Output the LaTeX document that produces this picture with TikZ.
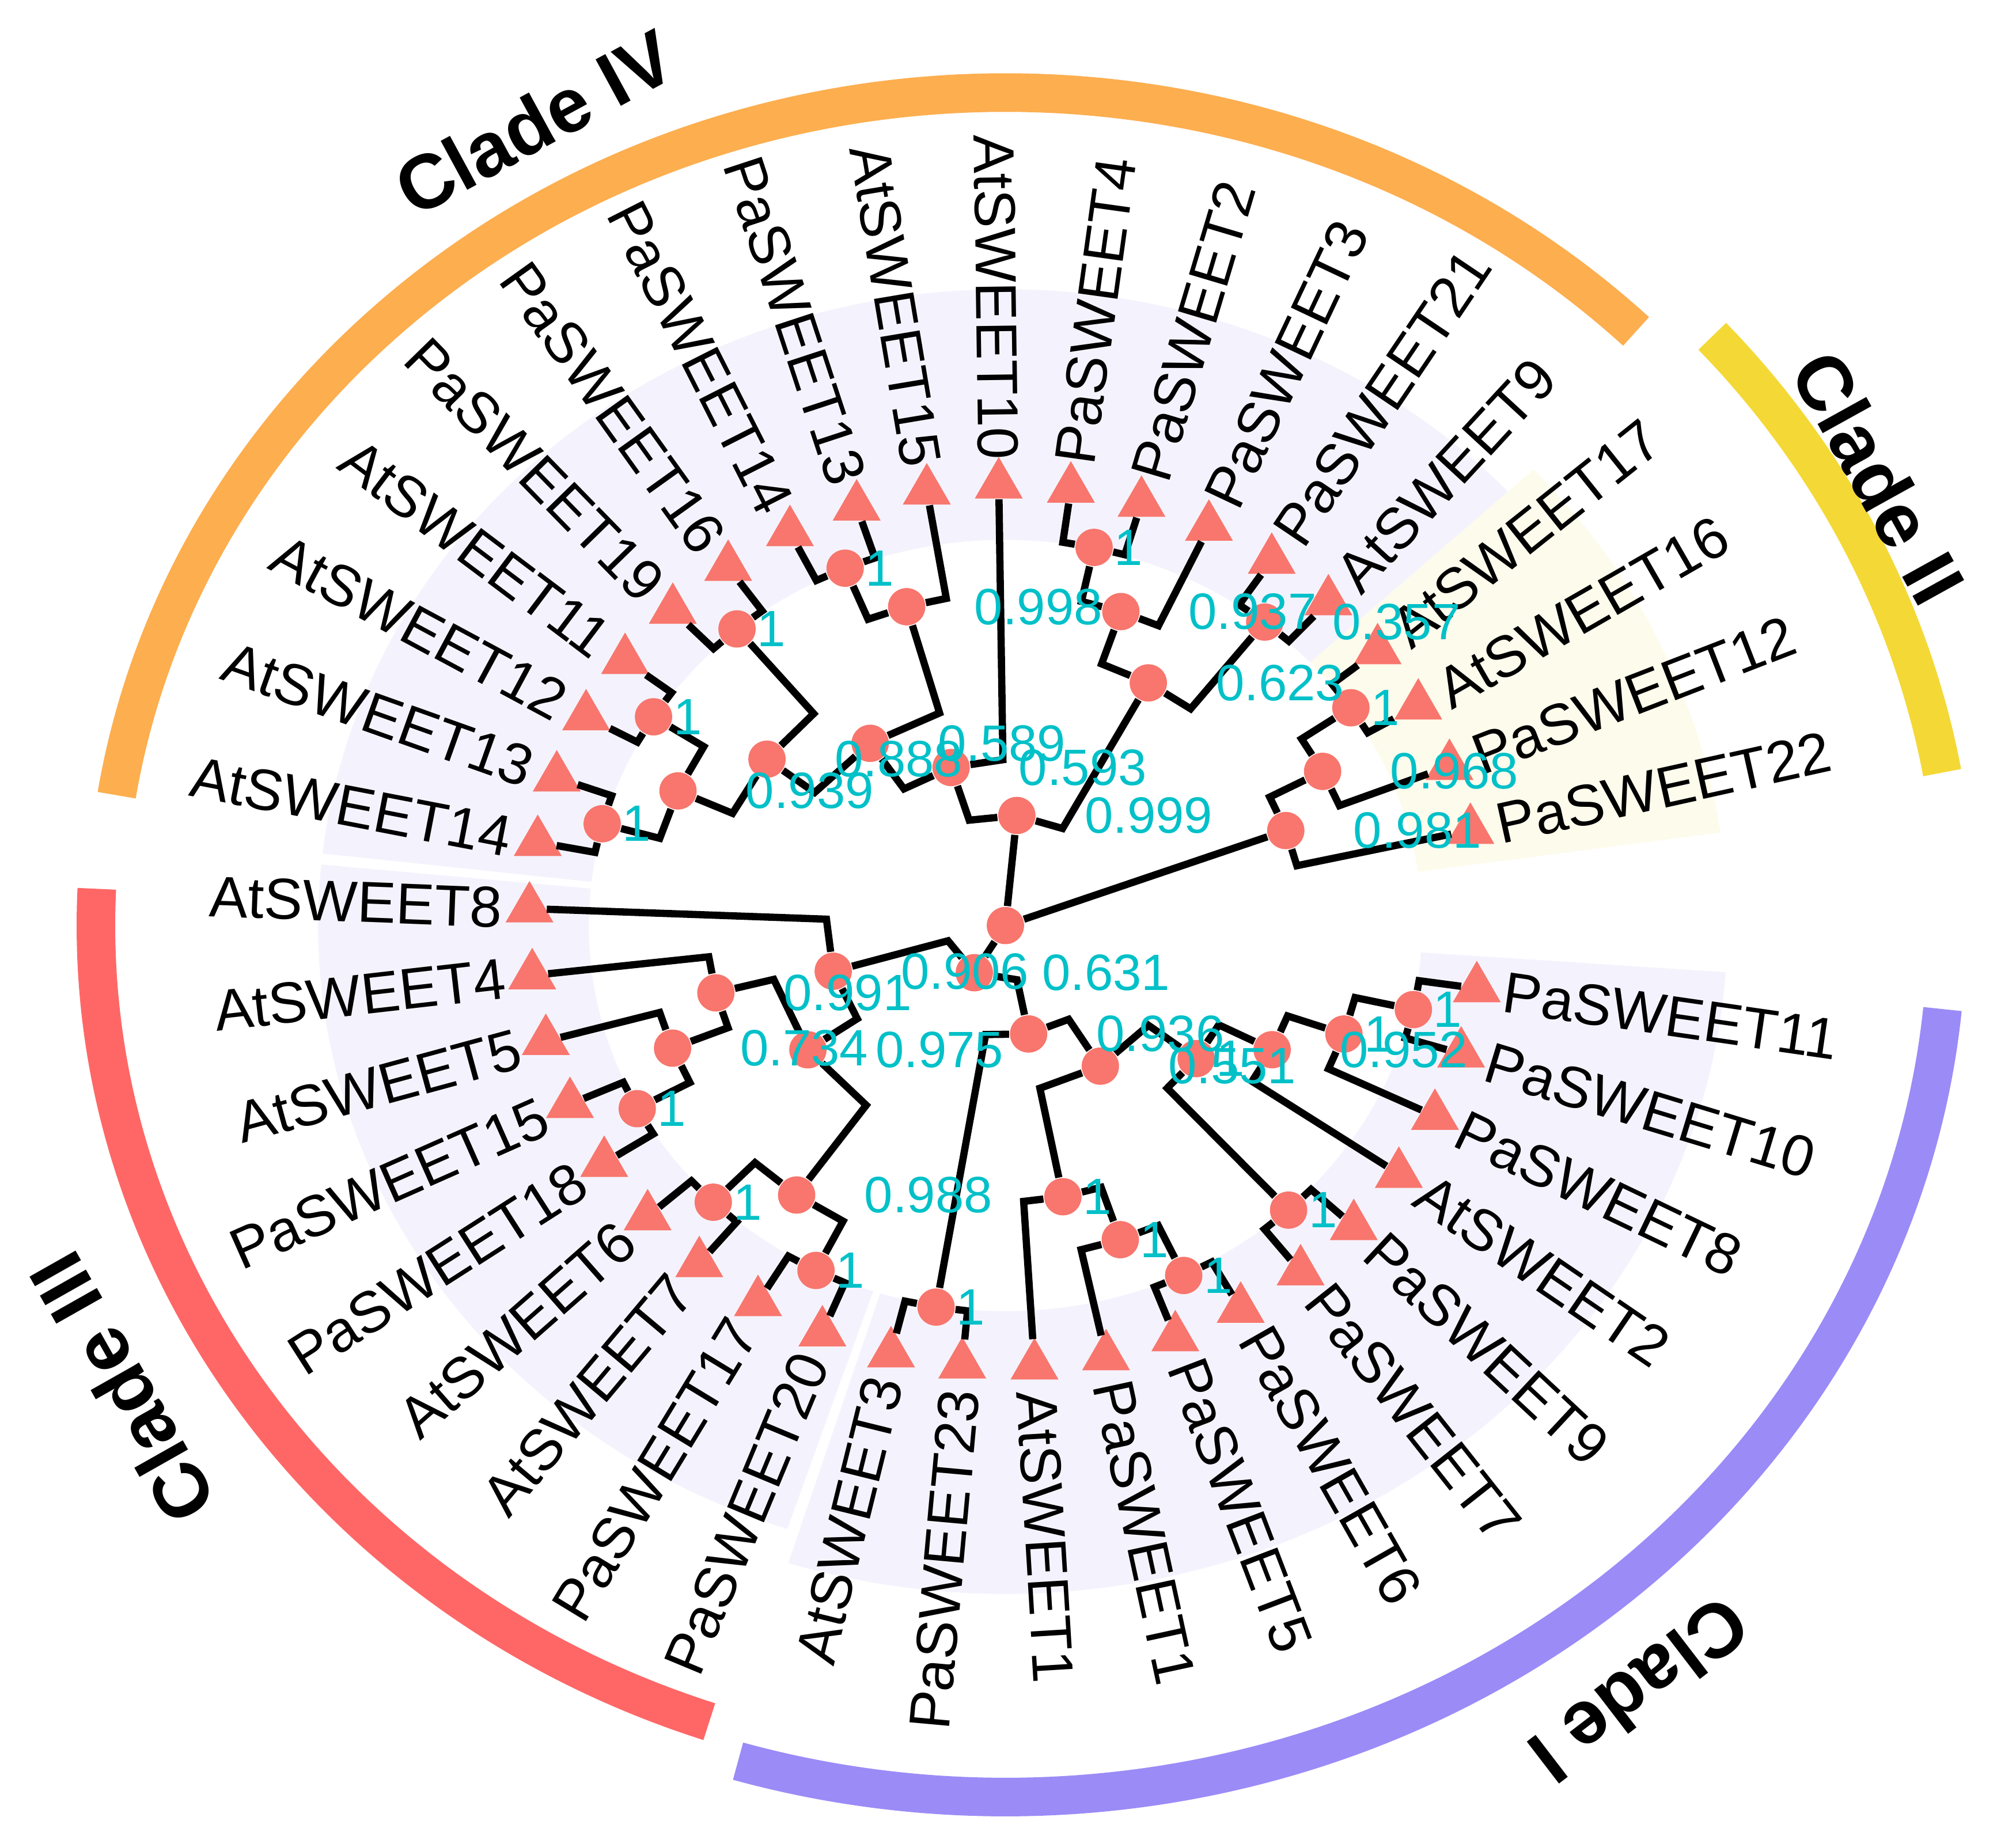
\documentclass[tikz,border=0pt]{standalone}
\usepackage{fontspec}
\setmainfont{Liberation Sans}
\usetikzlibrary{shapes.geometric}
\definecolor{salm}{HTML}{F8766D}
\definecolor{bsc}{HTML}{00C0C8}
\definecolor{lav}{HTML}{F4F3FD}
\definecolor{crm}{HTML}{FDFBEC}
\definecolor{cIV}{HTML}{FDAE4F}
\definecolor{cII}{HTML}{F4D836}
\definecolor{cIII}{HTML}{FF6767}
\definecolor{cI}{HTML}{9B8BF7}
\tikzset{
  tri/.style={regular polygon,regular polygon sides=3,fill=salm,draw=none,minimum size=0.43cm,inner sep=0pt},
  dot/.style={circle,fill=salm,draw=none,minimum size=0.29cm,inner sep=0pt},
  br/.style={line width=1.6pt,black,line join=miter},
  lab/.style={inner sep=0pt,font=\fontsize{12.8}{14}\selectfont},
  bsl/.style={inner sep=0pt,anchor=west,text=bsc,font=\fontsize{11.3}{13}\selectfont},
  clade/.style={font=\fontsize{17}{20}\selectfont\bfseries},
  band/.style={line width=0.3cm}
}
\newcommand\leaf[2]{%
  \node[tri] (#1) at (#2:343) {};%
  \pgfmathtruncatemacro\rside{(#2<90 || #2>270) ? 1 : 0}%
  \ifnum\rside=1
    \node[lab,rotate=#2,anchor=west] (#1-t) at (#2:362) {#1};%
  \else
    \pgfmathsetmacro\rot{#2+180}%
    \node[lab,rotate=\rot,anchor=east] (#1-t) at (#2:362) {#1};%
  \fi}
\newcommand\inn[3]{\node[dot] (#1) at (#2:#3) {};}
\newcommand\br[4]{\draw[br] (#1) -- (#3:#4) -- (#2);}
\newcommand\bs[2]{\node[bsl] at ([xshift=0.52cm]#1.center) {#2};}
\newcommand\bso[1]{\node[bsl] at ([xshift=0.15cm]#1.center) {1};}
\begin{document}
\begin{tikzpicture}[x=0.01cm,y=0.01cm]
\useasboundingbox (-782,-711) rectangle (786,720);
\begin{scope}[xscale=1.08]
% background sectors
\fill[lav] (43:300) arc[start angle=43,end angle=173.5,radius=300] -- (173.5:495) arc[start angle=173.5,end angle=43,radius=495] -- cycle;
\fill[lav] (174.5:300) arc[start angle=174.5,end angle=251.5,radius=300] -- (251.5:495) arc[start angle=251.5,end angle=174.5,radius=495] -- cycle;
\fill[lav] (252.5:300) arc[start angle=252.5,end angle=356,radius=300] -- (356:520) arc[start angle=356,end angle=252.5,radius=520] -- cycle;
\fill[crm] (8:300) arc[start angle=8,end angle=43,radius=300] -- (43:520) arc[start angle=43,end angle=8,radius=520] -- cycle;
% clade bands
\draw[band,cIV] (45.5:648) arc[start angle=45.5,end angle=171,radius=648];
\draw[band,cII] (10:685) arc[start angle=10,end angle=42,radius=685];
\draw[band,cIII] (177.5:655) arc[start angle=177.5,end angle=251,radius=655];
\draw[band,cI] (253.5:678) arc[start angle=253.5,end angle=354.5,radius=678];
\node[clade,rotate=28.5] (cl4) at (118.5:711) {Clade IV};
\node[clade,rotate=-61] (cl2) at (29:719) {Clade II};
\node[clade,rotate=119.5] (cl3) at (209.5:731) {Clade III};
\node[clade,rotate=217.5] (cl1) at (307.5:750) {Clade I};
% leaves
\leaf{PaSWEET22}{12.5}\leaf{PaSWEET12}{21.2}\leaf{AtSWEET16}{29.9}\leaf{AtSWEET17}{38.6}
\leaf{AtSWEET9}{47.3}\leaf{PaSWEET21}{56.0}\leaf{PaSWEET3}{64.7}\leaf{PaSWEET2}{73.4}
\leaf{PaSWEET4}{82.1}\leaf{AtSWEET10}{90.8}\leaf{AtSWEET15}{99.5}\leaf{PaSWEET13}{108.2}
\leaf{PaSWEET14}{116.9}\leaf{PaSWEET16}{125.6}\leaf{PaSWEET19}{134.3}\leaf{AtSWEET11}{143.0}
\leaf{AtSWEET12}{151.7}\leaf{AtSWEET13}{160.4}\leaf{AtSWEET14}{169.1}\leaf{AtSWEET8}{177.8}
\leaf{AtSWEET4}{186.5}\leaf{AtSWEET5}{195.2}\leaf{PaSWEET15}{203.9}\leaf{PaSWEET18}{212.6}
\leaf{AtSWEET6}{221.3}\leaf{AtSWEET7}{230.0}\leaf{PaSWEET17}{238.7}\leaf{PaSWEET20}{247.4}
\leaf{AtSWEET3}{256.1}\leaf{PaSWEET23}{264.8}\leaf{AtSWEET1}{273.5}\leaf{PaSWEET1}{282.2}
\leaf{PaSWEET5}{290.9}\leaf{PaSWEET6}{299.6}\leaf{PaSWEET7}{308.3}\leaf{PaSWEET9}{317.0}
\leaf{AtSWEET2}{325.7}\leaf{PaSWEET8}{334.4}\leaf{PaSWEET10}{343.1}\leaf{PaSWEET11}{351.8}
% internal nodes
\node[dot] (nR) at (0,0) {};
\inn{nD}{238.6}{43}
\inn{nB}{84.5}{86}\inn{nF}{281.2}{86}
\inn{nB1}{107.65}{129}\inn{nE}{196}{129}\inn{nQ}{302}{129}
\inn{nN1}{124.5}{172}\inn{nI}{214.2}{172}\inn{nR1}{323}{172}
\inn{nB2}{61.4}{215}\inn{nA}{20.1}{215}\inn{nN4}{143}{215}\inn{nG}{194.1}{215}\inn{nS}{333.3}{215}\inn{nV}{281.1}{215}
\inn{nB21}{71.2}{258}\inn{nA2}{27.7}{258}\inn{nN2}{106}{258}\inn{nN5}{156.05}{258}\inn{nH}{201.7}{258}\inn{nJ}{234.35}{258}\inn{nT}{340.9}{258}\inn{nX}{288.7}{258}
\inn{nB211}{77.75}{301}\inn{nB22}{51.65}{301}\inn{nA3}{34.25}{301}\inn{nN3}{112.55}{301}\inn{nN6}{129.95}{301}\inn{nN7}{147.35}{301}\inn{nN8}{164.75}{301}
\inn{nK}{208.25}{301}\inn{nL}{225.65}{301}\inn{nM}{243.05}{301}\inn{nP}{260.45}{301}\inn{nU}{347.45}{301}\inn{nW}{312.65}{301}\inn{nY}{295.25}{301}
% edges
\draw[br] (nR) -- (nB); \draw[br] (nR) -- (nA); \draw[br] (nR) -- (nD);
\br{nD}{nE}{196}{43}\br{nD}{nF}{281.2}{43}
\br{nB}{nB1}{107.65}{86}\br{nB}{nB2}{61.4}{86}
\br{nB1}{AtSWEET10}{90.8}{129}\br{nB1}{nN1}{124.5}{129}
\br{nN1}{nN2}{106}{172}\br{nN1}{nN4}{143}{172}
\br{nN2}{AtSWEET15}{99.5}{258}\br{nN2}{nN3}{112.55}{258}
\br{nN3}{PaSWEET13}{108.2}{301}\br{nN3}{PaSWEET14}{116.9}{301}
\br{nN4}{nN6}{129.95}{215}\br{nN4}{nN5}{156.05}{215}
\br{nN6}{PaSWEET16}{125.6}{301}\br{nN6}{PaSWEET19}{134.3}{301}
\br{nN5}{nN7}{147.35}{258}\br{nN5}{nN8}{164.75}{258}
\br{nN7}{AtSWEET11}{143.0}{301}\br{nN7}{AtSWEET12}{151.7}{301}
\br{nN8}{AtSWEET13}{160.4}{301}\br{nN8}{AtSWEET14}{169.1}{301}
\br{nB2}{nB21}{71.2}{215}\br{nB2}{nB22}{51.65}{215}
\br{nB21}{PaSWEET3}{64.7}{258}\br{nB21}{nB211}{77.75}{258}
\br{nB211}{PaSWEET2}{73.4}{301}\br{nB211}{PaSWEET4}{82.1}{301}
\br{nB22}{AtSWEET9}{47.3}{301}\br{nB22}{PaSWEET21}{56.0}{301}
\br{nA}{PaSWEET22}{12.5}{215}\br{nA}{nA2}{27.7}{215}
\br{nA2}{PaSWEET12}{21.2}{258}\br{nA2}{nA3}{34.25}{258}
\br{nA3}{AtSWEET16}{29.9}{301}\br{nA3}{AtSWEET17}{38.6}{301}
\br{nE}{AtSWEET8}{177.8}{129}\br{nE}{nI}{214.2}{129}
\br{nI}{nG}{194.1}{172}\br{nI}{nJ}{234.35}{172}
\br{nG}{AtSWEET4}{186.5}{215}\br{nG}{nH}{201.7}{215}
\br{nH}{AtSWEET5}{195.2}{258}\br{nH}{nK}{208.25}{258}
\br{nK}{PaSWEET15}{203.9}{301}\br{nK}{PaSWEET18}{212.6}{301}
\br{nJ}{nL}{225.65}{258}\br{nJ}{nM}{243.05}{258}
\br{nL}{AtSWEET6}{221.3}{301}\br{nL}{AtSWEET7}{230.0}{301}
\br{nM}{PaSWEET17}{238.7}{301}\br{nM}{PaSWEET20}{247.4}{301}
\br{nF}{nP}{260.45}{86}\br{nF}{nQ}{302}{86}
\br{nP}{AtSWEET3}{256.1}{301}\br{nP}{PaSWEET23}{264.8}{301}
\br{nQ}{nV}{281.1}{129}\br{nQ}{nR1}{323}{129}
\br{nV}{AtSWEET1}{273.5}{215}\br{nV}{nX}{288.7}{215}
\br{nX}{PaSWEET1}{282.2}{258}\br{nX}{nY}{295.25}{258}
\br{nY}{PaSWEET5}{290.9}{301}\br{nY}{PaSWEET6}{299.6}{301}
\br{nR1}{nW}{312.65}{172}\br{nR1}{nS}{333.3}{172}
\br{nW}{PaSWEET7}{308.3}{301}\br{nW}{PaSWEET9}{317.0}{301}
\br{nS}{AtSWEET2}{325.7}{215}\br{nS}{nT}{340.9}{215}
\br{nT}{PaSWEET8}{334.4}{258}\br{nT}{nU}{347.45}{258}
\br{nU}{PaSWEET10}{343.1}{301}\br{nU}{PaSWEET11}{351.8}{301}
\end{scope}
% bootstrap values
\bs{nB}{0.999}\bs{nB1}{0.593}\bs{nB2}{0.623}\bs{nB21}{0.937}\bso{nB211}\bs{nB22}{0.357}
\bs{nA}{0.981}\bs{nA2}{0.968}\bso{nA3}
\bs{nN1}{0.589}\bs{nN2}{0.998}\bso{nN3}\bs{nN4}{0.888}\bs{nN5}{0.939}\bso{nN6}\bso{nN7}\bso{nN8}
\bs{nD}{0.631}\bs{nE}{0.906}\bs{nI}{0.975}\bs{nG}{0.991}\bs{nH}{0.734}\bso{nK}\bs{nJ}{0.988}\bso{nL}\bso{nM}
\bso{nP}\bs{nF}{0.936}\bs{nQ}{0.551}\bso{nR1}\bs{nS}{0.952}\bso{nT}\bso{nU}\bso{nW}\bso{nV}\bso{nX}\bso{nY}
\end{tikzpicture}
\end{document}
